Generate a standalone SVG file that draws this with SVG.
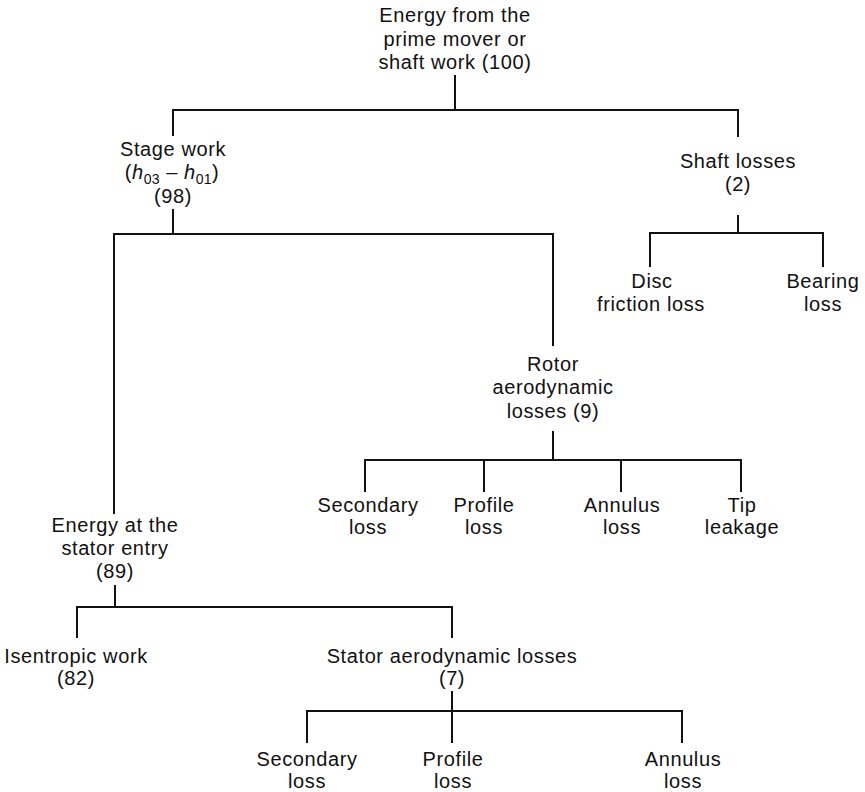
<svg xmlns="http://www.w3.org/2000/svg" width="865" height="792" viewBox="0 0 865 792">
  <style>
    .lbl { font-family: "Liberation Sans", Arial, Helvetica, sans-serif; font-size: 20px; letter-spacing: 0.6px; fill: #111; text-anchor: middle; }
    .sub { font-size: 14px; letter-spacing: 0.3px; }
    .link { fill: none; stroke: #111; stroke-width: 2; stroke-linecap: square; stroke-linejoin: miter; }
  </style>
  <rect width="865" height="792" fill="#fff"/>

  <!-- tree connectors -->
  <g id="connectors" class="link">
    <!-- root to first level -->
    <path d="M455 76 V110 M173 135 V110 H738 V136"/>
    <!-- stage work split -->
    <path d="M173 210 V234 M114 513 V234 H553 V345"/>
    <!-- shaft losses split -->
    <path d="M738 216 V233 M650 266 V233 H823 V266"/>
    <!-- rotor losses split -->
    <path d="M553 432 V460 M365 491 V460 H741 V491 M484 460 V491 M621 460 V491"/>
    <!-- stator entry split -->
    <path d="M115 586 V607 M77 637 V607 H452 V637"/>
    <!-- stator losses split -->
    <path d="M452 692 V742 M307 742 V711 H682 V742"/>
  </g>

  <g id="root">
    <text class="lbl" x="455" y="22">Energy from the</text>
    <text class="lbl" x="455" y="46">prime mover or</text>
    <text class="lbl" x="455" y="69">shaft work (100)</text>
  </g>

  <g id="stage-work">
    <text class="lbl" x="173" y="156">Stage work</text>
    <text class="lbl" x="172" y="179">(<tspan font-style="italic">h</tspan><tspan class="sub" dy="5">03</tspan><tspan dy="-5"> – </tspan><tspan font-style="italic">h</tspan><tspan class="sub" dy="5">01</tspan><tspan dy="-5">)</tspan></text>
    <text class="lbl" x="173" y="203">(98)</text>
  </g>

  <g id="shaft-losses">
    <text class="lbl" x="738" y="168">Shaft losses</text>
    <text class="lbl" x="738" y="191">(2)</text>
  </g>

  <g id="disc-friction">
    <text class="lbl" x="652" y="288">Disc</text>
    <text class="lbl" x="651" y="311">friction loss</text>
  </g>

  <g id="bearing">
    <text class="lbl" x="823" y="288">Bearing</text>
    <text class="lbl" x="823" y="311">loss</text>
  </g>

  <g id="rotor-losses">
    <text class="lbl" x="553" y="371">Rotor</text>
    <text class="lbl" x="553" y="394">aerodynamic</text>
    <text class="lbl" x="553" y="418">losses (9)</text>
  </g>

  <g id="rotor-secondary">
    <text class="lbl" x="368" y="512">Secondary</text>
    <text class="lbl" x="368" y="534">loss</text>
  </g>
  <g id="rotor-profile">
    <text class="lbl" x="484" y="512">Profile</text>
    <text class="lbl" x="484" y="534">loss</text>
  </g>
  <g id="rotor-annulus">
    <text class="lbl" x="622" y="512">Annulus</text>
    <text class="lbl" x="622" y="534">loss</text>
  </g>
  <g id="rotor-tip">
    <text class="lbl" x="742" y="512">Tip</text>
    <text class="lbl" x="742" y="534">leakage</text>
  </g>

  <g id="stator-entry">
    <text class="lbl" x="115" y="532">Energy at the</text>
    <text class="lbl" x="115" y="555">stator entry</text>
    <text class="lbl" x="115" y="578">(89)</text>
  </g>

  <g id="isentropic-work">
    <text class="lbl" x="76" y="663">Isentropic work</text>
    <text class="lbl" x="76" y="685">(82)</text>
  </g>

  <g id="stator-losses">
    <text class="lbl" x="452" y="663">Stator aerodynamic losses</text>
    <text class="lbl" x="452" y="685">(7)</text>
  </g>

  <g id="stator-secondary">
    <text class="lbl" x="307" y="766">Secondary</text>
    <text class="lbl" x="307" y="788">loss</text>
  </g>
  <g id="stator-profile">
    <text class="lbl" x="453" y="766">Profile</text>
    <text class="lbl" x="453" y="788">loss</text>
  </g>
  <g id="stator-annulus">
    <text class="lbl" x="683" y="766">Annulus</text>
    <text class="lbl" x="683" y="788">loss</text>
  </g>
</svg>
